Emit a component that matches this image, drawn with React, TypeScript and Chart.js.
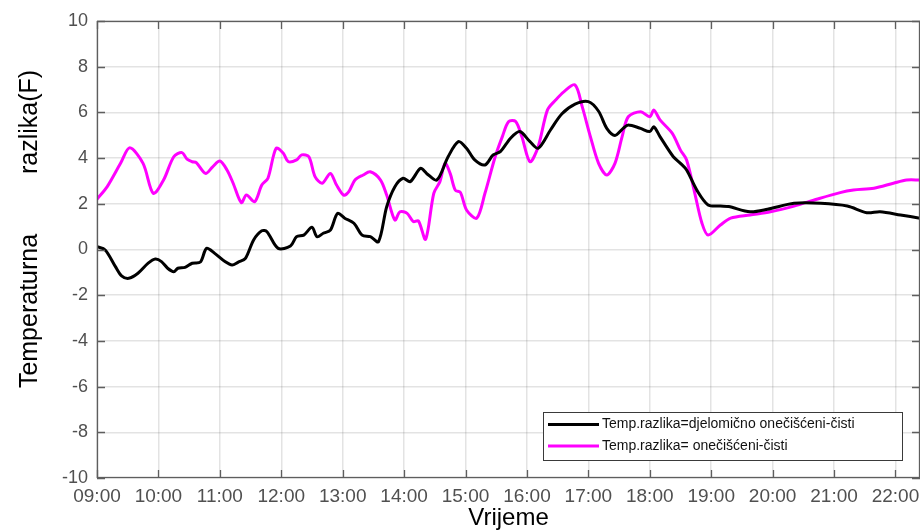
import React, { useEffect, useRef } from "react";
import { Chart, registerables } from "chart.js";

Chart.register(...registerables);

// minutes after 09:00
const startHour = 9;
const xMaxMinutes = 804;
const hourTicks = ["09:00", "10:00", "11:00", "12:00", "13:00", "14:00", "15:00", "16:00", "17:00", "18:00", "19:00", "20:00", "21:00", "22:00"];
const yTicks = [-10, -8, -6, -4, -2, 0, 2, 4, 6, 8, 10];

const blackLabel = "Temp.razlika=djelomično onečišćeni-čisti";
const magentaLabel = "Temp.razlika= onečišćeni-čisti";
const yTitleParts = ["Temperaturna", "razlika(F)"];
const xTitle = "Vrijeme";

const blackTimes = [0, 8, 18, 24, 31, 40, 50, 57, 63, 69, 75, 79, 86, 93, 101, 107, 115, 125, 132, 138, 145, 153, 161, 166, 177, 189, 195, 202, 210, 215, 221, 228, 235, 242, 251, 259, 267, 275, 283, 291, 299, 306, 316, 322, 332, 343, 353, 361, 369, 379, 387, 394, 404, 413, 423, 431, 443, 454, 467, 480, 490, 498, 506, 514, 519, 531, 540, 544, 550, 563, 570, 576, 586, 597, 609, 617, 638, 655, 681, 707, 733, 752, 765, 785, 804];
const blackValues = [0.12, -0.02, -0.75, -1.15, -1.26, -1.04, -0.6, -0.42, -0.53, -0.82, -0.97, -0.82, -0.78, -0.6, -0.55, 0.05, -0.17, -0.53, -0.68, -0.55, -0.39, 0.42, 0.82, 0.78, 0.05, 0.15, 0.56, 0.63, 0.97, 0.56, 0.71, 0.85, 1.58, 1.37, 1.15, 0.63, 0.56, 0.34, 1.87, 2.75, 3.12, 2.97, 3.55, 3.33, 3.04, 4.06, 4.72, 4.43, 3.92, 3.7, 4.14, 4.28, 4.87, 5.16, 4.72, 4.43, 5.23, 5.93, 6.36, 6.47, 6.05, 5.3, 4.99, 5.3, 5.45, 5.3, 5.16, 5.37, 4.94, 4.06, 3.77, 3.48, 2.6, 1.95, 1.9, 1.88, 1.65, 1.76, 2.02, 2.02, 1.9, 1.61, 1.65, 1.51, 1.37];

const magentaTimes = [0, 10, 23, 32, 45, 55, 65, 75, 83, 88, 93, 97, 106, 113, 120, 127, 133, 141, 146, 154, 161, 167, 175, 182, 187, 195, 200, 207, 213, 220, 228, 234, 241, 246, 252, 260, 267, 277, 283, 291, 296, 303, 309, 314, 321, 329, 335, 340, 345, 350, 355, 361, 371, 379, 389, 396, 402, 409, 415, 423, 431, 440, 448, 456, 467, 474, 482, 490, 498, 506, 513, 519, 531, 540, 544, 550, 562, 570, 576, 584, 591, 597, 609, 619, 638, 658, 681, 703, 726, 739, 759, 778, 791, 804];
const magentaValues = [2.2, 2.75, 3.77, 4.45, 3.77, 2.46, 3.04, 4.06, 4.24, 3.95, 3.84, 3.8, 3.33, 3.62, 3.87, 3.48, 2.9, 2.05, 2.38, 2.09, 2.82, 3.12, 4.43, 4.21, 3.84, 3.92, 4.14, 4.06, 3.19, 2.9, 3.33, 2.82, 2.38, 2.53, 3.04, 3.26, 3.4, 3.04, 2.38, 1.29, 1.65, 1.58, 1.22, 1.25, 0.45, 2.46, 2.97, 3.77, 3.33, 2.6, 2.5, 1.73, 1.37, 2.46, 4.06, 4.94, 5.59, 5.6, 4.94, 3.84, 4.5, 6.1, 6.54, 6.9, 7.2, 6.25, 4.94, 3.77, 3.26, 3.77, 4.94, 5.81, 6.03, 5.81, 6.1, 5.67, 5.08, 4.35, 3.92, 2.46, 1.15, 0.63, 1.07, 1.37, 1.51, 1.65, 1.9, 2.2, 2.49, 2.6, 2.68, 2.9, 3.04, 3.04];

const FONT = "'Liberation Sans', Arial, sans-serif";

const framePlugin = {
  id: "frameAndLegend",
  afterDatasetsDraw(chart: any) {
    const { ctx, chartArea: a, scales } = chart;
    ctx.save();
    ctx.strokeStyle = "#5e5e5e";
    ctx.lineWidth = 1.3;
    ctx.strokeRect(a.left + 0.5, a.top + 0.5, a.right - a.left - 1, a.bottom - a.top - 1);
    const L = 8;
    ctx.beginPath();
    scales.x.ticks.forEach((t: any) => {
      const px = Math.round(scales.x.getPixelForValue(t.value)) + 0.5;
      ctx.moveTo(px, a.bottom);
      ctx.lineTo(px, a.bottom - L);
      ctx.moveTo(px, a.top);
      ctx.lineTo(px, a.top + L);
    });
    scales.y.ticks.forEach((t: any) => {
      const py = Math.round(scales.y.getPixelForValue(t.value)) + 0.5;
      ctx.moveTo(a.left, py);
      ctx.lineTo(a.left + L, py);
      ctx.moveTo(a.right, py);
      ctx.lineTo(a.right - L, py);
    });
    ctx.stroke();
    ctx.restore();
  },
  afterDraw(chart: any) {
    const { ctx, chartArea: a } = chart;
    ctx.save();
    // legend
    const w = 359, h = 48;
    const bx = a.right - 18 - w;
    const by = a.bottom - 18 - h;
    ctx.fillStyle = "#ffffff";
    ctx.fillRect(bx, by, w, h);
    ctx.strokeStyle = "#3a3a3a";
    ctx.lineWidth = 1;
    ctx.strokeRect(bx + 0.5, by + 0.5, w, h);
    ctx.font = `14px ${FONT}`;
    ctx.textBaseline = "middle";
    ctx.textAlign = "left";
    chart.data.datasets.forEach((ds: any, i: number) => {
      const y = by + 12.5 + i * 21.5;
      ctx.strokeStyle = ds.borderColor;
      ctx.lineWidth = 3;
      ctx.beginPath();
      ctx.moveTo(bx + 5, y);
      ctx.lineTo(bx + 56, y);
      ctx.stroke();
      ctx.fillStyle = "#111111";
      ctx.fillText(ds.label, bx + 59, y);
    });
    // axis titles
    ctx.fillStyle = "#000000";
    ctx.font = `24px ${FONT}`;
    ctx.textAlign = "center";
    ctx.textBaseline = "middle";
    ctx.fillText(xTitle, (a.left + a.right) / 2, 518);
    ctx.save();
    ctx.font = `25px ${FONT}`;
    ctx.translate(30, 0);
    ctx.rotate(-Math.PI / 2);
    ctx.fillText(yTitleParts[0], -311, 0);
    ctx.fillText(yTitleParts[1], -122, 0);
    ctx.restore();
    ctx.restore();
  },
};

export default function App() {
  const ref = useRef<HTMLCanvasElement | null>(null);

  useEffect(() => {
    if (!ref.current) return;
    Chart.defaults.font.family = FONT;
    const chart = new Chart(ref.current, {
      type: "line",
      data: {
        datasets: [
          {
            label: blackLabel,
            data: blackTimes.map((t, i) => ({ x: t, y: blackValues[i] })),
            borderColor: "#000000",
            backgroundColor: "#000000",
            borderWidth: 3,
            pointRadius: 0,
            tension: 0.3,
          },
          {
            label: magentaLabel,
            data: magentaTimes.map((t, i) => ({ x: t, y: magentaValues[i] })),
            borderColor: "#ff00ff",
            backgroundColor: "#ff00ff",
            borderWidth: 3,
            pointRadius: 0,
            tension: 0.3,
          },
        ],
      },
      options: {
        animation: false,
        responsive: true,
        maintainAspectRatio: false,
        layout: { padding: { top: 21, right: 0, left: 0, bottom: 0 } },
        plugins: { legend: { display: false }, tooltip: { enabled: false } },
        scales: {
          x: {
            type: "linear",
            min: 0,
            max: xMaxMinutes,
            afterBuildTicks: (scale: any) => {
              scale.ticks = hourTicks.map((_, i) => ({ value: i * 60 }));
            },
            afterFit: (scale: any) => {
              scale.height = 53;
              scale.paddingLeft = 0;
              scale.paddingRight = 0;
            },
            grid: { color: "rgba(0,0,0,0.11)", lineWidth: 1.5, drawTicks: false },
            border: { display: false },
            ticks: {
              padding: 7,
              color: "#505050",
              font: { size: 19 },
              maxRotation: 0,
              autoSkip: false,
              callback: (v: any) => hourTicks[Math.round(Number(v) / 60)] ?? `${startHour + Math.round(Number(v) / 60)}:00`,
            },
          },
          y: {
            type: "linear",
            min: -10,
            max: 10,
            afterBuildTicks: (scale: any) => {
              scale.ticks = yTicks.map((v) => ({ value: v }));
            },
            afterFit: (scale: any) => {
              scale.width = 97;
              scale.paddingTop = 0;
              scale.paddingBottom = 0;
            },
            grid: { color: "rgba(0,0,0,0.11)", lineWidth: 1.5, drawTicks: false },
            border: { display: false },
            ticks: {
              padding: 9,
              color: "#505050",
              font: { size: 18 },
              callback: (v: any) => String(v),
            },
          },
        },
      },
      plugins: [framePlugin],
    });
    return () => chart.destroy();
  }, []);

  return (
    <div style={{ position: "fixed", left: 0, top: 0, width: 920, height: 531, background: "#ffffff" }}>
      <canvas ref={ref} />
    </div>
  );
}
